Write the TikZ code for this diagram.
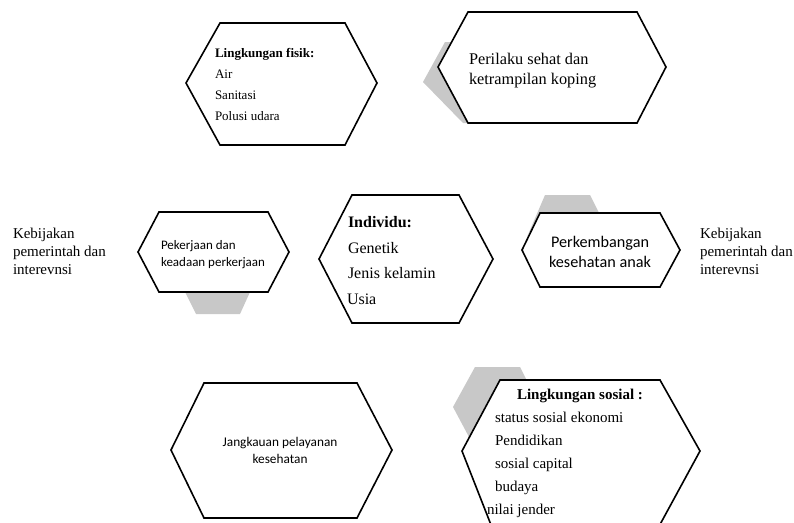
\documentclass[tikz,border=0pt]{standalone}
\usepackage{fontspec}
\setmainfont{Liberation Serif}
\newfontfamily\calfont{Carlito}
\definecolor{shadowgray}{RGB}{200,200,200}
\tikzset{
  hexbox/.style={draw=black, line width=1.6pt, fill=white, line join=miter},
  shadowbox/.style={fill=shadowgray, draw=none},
  txtline/.style={anchor=base west, inner sep=0pt, outer sep=0pt},
  txtmid/.style={anchor=base, inner sep=0pt, outer sep=0pt},
  serifA/.style={font=\fontsize{13}{15}\selectfont},
  serifB/.style={font=\fontsize{16.3}{19}\selectfont},
  serifC/.style={font=\fontsize{15}{17}\selectfont},
  serifD/.style={font=\fontsize{16}{18}\selectfont},
  sansA/.style={font=\calfont\fontsize{13}{15}\selectfont},
  sansB/.style={font=\calfont\fontsize{16.2}{19}\selectfont},
  sansC/.style={font=\calfont\fontsize{13.3}{15}\selectfont},
}
\begin{document}
\begin{tikzpicture}[x=1pt,y=-1pt]
\useasboundingbox (0,0) rectangle (794,522);
\clip (0,0) rectangle (794,522);
\fill[white] (0,0) rectangle (794,522);

% shadows
\fill[shadowbox] (445,42) -- (423,82) -- (463,123) -- (480,123) -- (480,42) -- cycle;
\fill[shadowbox] (185,292) -- (250,292) -- (240,314) -- (196,314) -- cycle;
\fill[shadowbox] (527,237) -- (545,195) -- (590,195) -- (600,215) -- (540,215) -- cycle;
\fill[shadowbox] (475,367) -- (520,367) -- (527,381) -- (469,437) -- (453,407) -- cycle;

% hexagons
\draw[hexbox] (186,83) -- (220,23) -- (345,23) -- (377,83) -- (345,145) -- (220,145) -- cycle;
\draw[hexbox] (438,67) -- (468,12) -- (637,12) -- (666,67) -- (637,123) -- (468,123) -- cycle;
\draw[hexbox] (138,252) -- (159,212) -- (268,212) -- (289,252) -- (268,292) -- (159,292) -- cycle;
\draw[hexbox] (319,259) -- (352,195) -- (459,195) -- (493,259) -- (459,323) -- (352,323) -- cycle;
\draw[hexbox] (522,250) -- (540,213) -- (660,213) -- (680,250) -- (660,287) -- (540,287) -- cycle;
\draw[hexbox] (171,450) -- (204,383) -- (357,383) -- (392,450) -- (357,518) -- (204,518) -- cycle;
\draw[hexbox] (462,451) -- (500,380) -- (660,380) -- (700,451) -- (657,530) -- (493,530) -- cycle;

% Lingkungan fisik
\node[txtline, serifA] (fis1) at (215,57) {\textbf{Lingkungan fisik:}};
\node[txtline, serifA] (fis2) at (215,78) {Air};
\node[txtline, serifA] (fis3) at (215,99) {Sanitasi};
\node[txtline, serifA] (fis4) at (215,120) {Polusi udara};

% Perilaku
\node[txtline, serifB] (per1) at (469,64) {Perilaku sehat dan};
\node[txtline, serifB] (per2) at (469,84) {ketrampilan koping};

% Kebijakan left
\node[txtline, serifC] (kl1) at (13,238) {Kebijakan};
\node[txtline, serifC] (kl2) at (13,256) {pemerintah dan};
\node[txtline, serifC] (kl3) at (13,274) {interevnsi};

% Kebijakan right
\node[txtline, serifC] (kr1) at (700,238) {Kebijakan};
\node[txtline, serifC] (kr2) at (700,256) {pemerintah dan};
\node[txtline, serifC] (kr3) at (700,274) {interevnsi};

% Pekerjaan
\node[txtline, sansA] (pk1) at (161,249) {Pekerjaan dan};
\node[txtline, sansA] (pk2) at (161,266) {keadaan perkerjaan};

% Individu
\node[txtline, serifD] (ind1) at (348,227.5) {\textbf{Individu:}};
\node[txtline, serifD] (ind2) at (348,253) {Genetik};
\node[txtline, serifD] (ind3) at (348,278.5) {Jenis kelamin};
\node[txtline, serifD] (ind4) at (347,304) {Usia};

% Perkembangan
\node[txtmid, sansB] (pb1) at (600,247) {Perkembangan};
\node[txtmid, sansB] (pb2) at (600,267) {kesehatan anak};

% Jangkauan
\node[txtmid, sansC] (jk1) at (280,446) {Jangkauan pelayanan};
\node[txtmid, sansC] (jk2) at (280,463) {kesehatan};

% Lingkungan sosial
\node[txtmid, serifC] (so1) at (580,399) {\textbf{Lingkungan sosial :}};
\node[txtline, serifC] (so2) at (495,422) {status sosial ekonomi};
\node[txtline, serifC] (so3) at (495,445) {Pendidikan};
\node[txtline, serifC] (so4) at (495,468) {sosial capital};
\node[txtline, serifC] (so5) at (495,491.5) {budaya};
\node[txtline, serifC] (so6) at (487,514) {nilai jender};
\end{tikzpicture}
\end{document}
